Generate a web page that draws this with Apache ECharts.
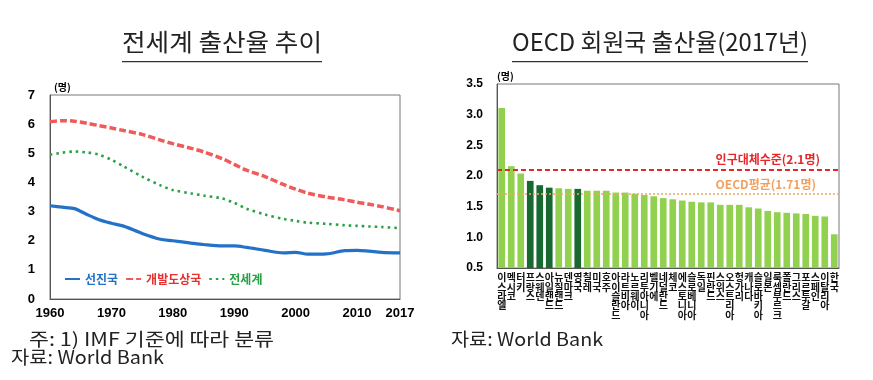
<!DOCTYPE html>
<html>
<head>
<meta charset="utf-8">
<script src="https://cdn.jsdelivr.net/npm/echarts@6/dist/echarts.min.js"></script>
<style>
html,body{margin:0;padding:0;background:#fff;}
#c{width:873px;height:380px;}
</style>
</head>
<body>
<div id="c"></div>
<script>
// ---- Left chart data (합계출산율, 명) ----
var years = [1960,1962,1964,1966,1968,1970,1972,1975,1978,1980,1983,1985,1988,1990,1992,1995,1998,2000,2002,2005,2008,2010,2012,2014,2017];
var developed = [3.20,3.15,3.10,2.90,2.72,2.60,2.50,2.25,2.05,2.00,1.92,1.87,1.82,1.82,1.77,1.67,1.58,1.60,1.54,1.55,1.66,1.67,1.64,1.60,1.58];
var developing = [6.08,6.12,6.10,6.03,5.95,5.87,5.78,5.65,5.45,5.33,5.17,5.05,4.82,4.62,4.42,4.20,3.93,3.77,3.63,3.50,3.40,3.32,3.25,3.17,3.03];
var world = [4.95,5.02,5.06,5.03,4.95,4.78,4.55,4.20,3.90,3.74,3.62,3.55,3.45,3.30,3.10,2.90,2.75,2.68,2.62,2.58,2.53,2.51,2.49,2.47,2.43];
var seriesNames = ['선진국','개발도상국','전세계'];
var xTickLabels = [1960,1970,1980,1990,2000,2010,2017];

// ---- Right chart data (OECD 2017) ----
var countries = ['이스라엘','멕시코','터키','프랑스','스웨덴','아일랜드','뉴질랜드','덴마크','영국','칠레','미국','호주','아이슬란드','라트비아','노르웨이','리투아니아','벨기에','네덜란드','체코','에스토니아','슬로베니아','독일','핀란드','스위스','오스트리아','헝가리','캐나다','슬로바키아','일본','룩셈부르크','폴란드','그리스','포르투갈','스페인','이탈리아','한국'];
var fertility = [3.11,2.16,2.04,1.92,1.85,1.81,1.80,1.79,1.79,1.76,1.76,1.76,1.73,1.73,1.71,1.69,1.67,1.64,1.62,1.60,1.58,1.57,1.57,1.53,1.53,1.53,1.49,1.47,1.43,1.41,1.40,1.39,1.38,1.35,1.34,1.05];
var highlighted = ['프랑스','스웨덴','아일랜드','영국'];
var replacementLevel = 2.1;
var oecdAverage = 1.71;

function pairs(xs, ys){ return xs.map(function(x,i){ return [x, ys[i]]; }); }

var measureCtx = document.createElement('canvas').getContext('2d');
function fitScale(text, font, targetWidth){
  measureCtx.font = font;
  var w = measureCtx.measureText(text).width;
  return w > 0 ? targetWidth / w : 1;
}
function fittedText(text, font, x, y, targetWidth){
  return {type:'text', x:x, y:y, scaleX:fitScale(text, font, targetWidth), scaleY:1,
          style:{text:text, font:font, fill:'#222', textVerticalAlign:'top', verticalAlign:'top'}};
}

var blue = '#2472c8', red = '#f05a5a', green = '#27a046';
var lightGreen = '#92d050', darkGreen = '#17692f';
var axisFont = {fontFamily:'Arial, "Liberation Sans", sans-serif', fontWeight:'bold', fontSize:13, color:'#000'};
var titleFont = '24px "Noto Sans CJK KR"';
var noteFont = '18px "Noto Sans CJK KR"';

var chart = echarts.init(document.getElementById('c'), null, {renderer:'canvas'});
chart.setOption({
  backgroundColor:'#fff',
  animation:false,
  graphic:[
    fittedText('전세계 출산율 추이', titleFont, 122, 30, 200),
    {type:'rect', shape:{x:122, y:61, width:200, height:1.3}, style:{fill:'#333'}},
    fittedText('OECD 회원국 출산율(2017년)', titleFont, 512, 30, 296),
    {type:'rect', shape:{x:512, y:61, width:296, height:1.3}, style:{fill:'#333'}},
    {type:'text', x:54, y:82, style:{text:'(명)', font:'bold 10px "Noto Sans CJK KR"', fill:'#000', textVerticalAlign:'top', verticalAlign:'top'}},
    {type:'text', x:497, y:71, style:{text:'(명)', font:'bold 10px "Noto Sans CJK KR"', fill:'#000', textVerticalAlign:'top', verticalAlign:'top'}},
    fittedText('주: 1) IMF 기준에 따라 분류', noteFont, 29, 330, 245),
    fittedText('자료: World Bank', noteFont, 11, 348, 153),
    fittedText('자료: World Bank', noteFont, 451, 330, 152)
  ],
  grid:[
    {left:50, right:473, top:95, bottom:81, show:true, borderColor:'#777', borderWidth:1},
    {left:497, right:34, top:84, bottom:112, show:true, borderColor:'#777', borderWidth:1}
  ],
  legend:{
    left:59, top:268,
    itemWidth:15, itemHeight:8, itemGap:7,
    itemStyle:{opacity:0},
    textStyle:{fontFamily:'"Noto Sans CJK KR"', fontWeight:'bold', fontSize:12},
    data:[
      {name:seriesNames[0], textStyle:{color:blue}},
      {name:seriesNames[1], textStyle:{color:'#e8302e'}},
      {name:seriesNames[2], textStyle:{color:green}}
    ]
  },
  xAxis:[
    {type:'value', gridIndex:0, min:1960, max:2017, interval:10,
     axisLine:{show:true, lineStyle:{color:'#555'}}, axisTick:{show:false}, splitLine:{show:false},
     axisLabel:Object.assign({margin:8, showMaxLabel:true, formatter:function(v){ return xTickLabels.indexOf(v)>=0 ? String(v) : ''; }}, axisFont)},
    {type:'category', gridIndex:1, data:countries,
     axisLine:{show:true, lineStyle:{color:'#555'}}, axisTick:{show:false},
     axisLabel:{interval:0, margin:5, fontFamily:'"Noto Sans CJK KR"', fontWeight:'bold', fontSize:10, lineHeight:9.3, color:'#111',
       formatter:function(v){ return v.split('').join('\n'); }, verticalAlign:'top'}}
  ],
  yAxis:[
    {type:'value', gridIndex:0, min:0, max:7, interval:1,
     axisLine:{show:true, lineStyle:{color:'#555'}}, axisTick:{show:false}, splitLine:{show:false},
     axisLabel:Object.assign({margin:15}, axisFont)},
    {type:'value', gridIndex:1, min:0.5, max:3.5, interval:0.5,
     axisLine:{show:true, lineStyle:{color:'#555'}}, axisTick:{show:false}, splitLine:{show:false},
     axisLabel:Object.assign({margin:14, formatter:function(v){ return v.toFixed(1); }}, axisFont, {fontSize:12})}
  ],
  series:[
    {name:seriesNames[0], type:'line', xAxisIndex:0, yAxisIndex:0, data:pairs(years, developed), smooth:0.3,
     symbol:'none', lineStyle:{color:blue, width:3.2}, itemStyle:{color:blue}},
    {name:seriesNames[1], type:'line', xAxisIndex:0, yAxisIndex:0, data:pairs(years, developing), smooth:0.3,
     symbol:'none', lineStyle:{color:red, width:3.5, type:[7,3]}, itemStyle:{color:red}},
    {name:seriesNames[2], type:'line', xAxisIndex:0, yAxisIndex:0, data:pairs(years, world), smooth:0.3,
     symbol:'none', lineStyle:{color:green, width:2.6, type:[2.5,4]}, itemStyle:{color:green}},
    {name:'출산율', type:'bar', xAxisIndex:1, yAxisIndex:1, barCategoryGap:'30%',
     data:fertility.map(function(v,i){
       return {value:v, itemStyle:{color: highlighted.indexOf(countries[i])>=0 ? darkGreen : lightGreen}};
     }),
     markLine:{
       silent:true, symbol:'none', animation:false,
       data:[
         {yAxis:replacementLevel, lineStyle:{color:'#e8262a', width:2, type:[5,3]},
          label:{show:true, position:'insideEndTop', formatter:'인구대체수준(2.1명)', color:'#e8262a',
                 fontFamily:'"Noto Sans CJK KR"', fontWeight:'bold', fontSize:12, distance:[19,4]}},
         {yAxis:oecdAverage, lineStyle:{color:'#f2a860', width:1.5, type:[2,2]},
          label:{show:true, position:'insideEndTop', formatter:'OECD평균(1.71명)', color:'#f2a060',
                 fontFamily:'"Noto Sans CJK KR"', fontWeight:'bold', fontSize:12, distance:[23,3]}}
       ]
     }}
  ]
});
</script>
</body>
</html>
